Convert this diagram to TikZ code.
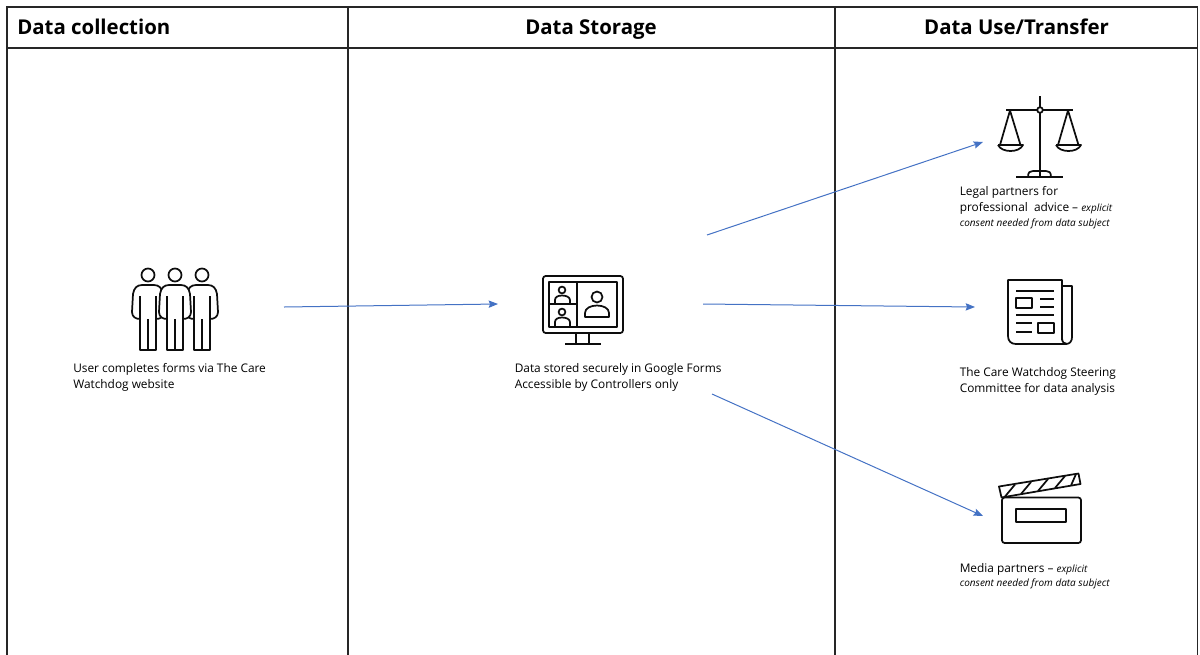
\documentclass[tikz,border=0pt]{standalone}
\usepackage{fontspec}
\setmainfont{Open Sans}
\usetikzlibrary{arrows.meta}
\definecolor{arrowblue}{HTML}{4472C4}
\tikzset{
	frameline/.style={draw=black!85,line width=1.2pt},
	headtext/.style={font=\fontsize{15.3}{18}\selectfont\bfseries,inner sep=0pt,anchor=base},
	bodytext/.style={font=\fontsize{8.9}{12.3}\selectfont,align=left,anchor=north west,inner sep=0pt},
	icon/.style={draw=black!95,line width=1.3pt,line join=round},
	flow/.style={draw=arrowblue,line width=0.75pt,-{Stealth[length=7pt,width=5.5pt,inset=1pt]}}
}
\newcommand{\smallnote}[1]{{\fontsize{7.5}{9}\selectfont\itshape #1}}
\newcommand{\personicon}[1]{
	\begin{scope}[shift={(#1,0)}]
		\draw[icon] (0,275) circle (6.5);
		\draw[icon,fill=white] (-8,350) -- (-8,319) .. controls (-12,319) and (-16,317) .. (-16,312) -- (-15,294) .. controls (-14,288) and (-11,285) .. (-6,285) -- (6,285) .. controls (11,285) and (14,288) .. (15,294) -- (16,312) .. controls (16,317) and (12,319) .. (8,319) -- (8,350) -- cycle;
		\draw[icon] (-8,296) -- (-8,319);
		\draw[icon] (8,296) -- (8,319);
		\draw[icon] (0,319) -- (0,350);
	\end{scope}
}
\begin{document}
\begin{tikzpicture}[x=0.75pt,y=-0.75pt]
	\useasboundingbox (0,0) rectangle (1200,654);
	% table
	\coordinate (tl) at (7,7);
	\coordinate (tr) at (1197.5,7);
	\coordinate (bl) at (7,660);
	\coordinate (br) at (1197.5,660);
	\coordinate (hl) at (7,48);
	\coordinate (hr) at (1197.5,48);
	\coordinate (ca) at (348,7);
	\coordinate (cb) at (348,660);
	\coordinate (cc) at (835,7);
	\coordinate (cd) at (835,660);
	\draw[frameline] (bl) -- (tl) -- (tr) -- (br);
	\draw[frameline] (hl) -- (hr);
	\draw[frameline] (ca) -- (cb);
	\draw[frameline] (cc) -- (cd);
	\node[headtext,anchor=base west] (collect) at (17,34) {Data collection};
	\node[headtext] (store) at (591,34) {Data Storage};
	\node[headtext] (use) at (1016.5,34) {Data Use/Transfer};
	% people
	\personicon{148}
	\personicon{202}
	\personicon{175}
	\node[bodytext] (usertext) at (73,363) {User completes forms via The Care\\Watchdog website};
	% monitor
	\draw[icon,rounded corners=2] (543,276) rectangle (623,333);
	\draw[icon] (549,282) rectangle (617,327);
	\draw[icon] (577,282) -- (577,327);
	\draw[icon] (549,304) -- (577,304);
	\draw[icon] (576,333) -- (576,344);
	\draw[icon] (589,333) -- (589,344);
	\draw[icon] (565,344) -- (601,344);
	\draw[icon] (562,290) circle (3.4);
	\draw[icon] (555,303) -- (555,300) .. controls (555,297) and (558,295.5) .. (562,295.5) .. controls (566,295.5) and (570,297) .. (570,300) -- (570,303);
	\draw[icon] (562,312) circle (3.4);
	\draw[icon] (555,326) -- (555,322) .. controls (555,319) and (558,317.5) .. (562,317.5) .. controls (566,317.5) and (570,319) .. (570,322) -- (570,326);
	\draw[icon] (597,297) circle (5.5);
	\draw[icon] (585,317) -- (585,313) .. controls (585,308) and (591,305.5) .. (597,305.5) .. controls (603,305.5) and (609,308) .. (609,313) -- (609,317) -- cycle;
	\node[bodytext] (storetext) at (514.5,363) {Data stored securely in Google Forms\\Accessible by Controllers only};
	% scales
	\draw[icon] (1040,96) -- (1040,176);
	\draw[icon] (1006,110) -- (1073,110);
	\draw[icon,fill=white] (1040,110) circle (2.8);
	\draw[icon] (1000,145) -- (1010,110.5) -- (1020.5,145);
	\draw[icon] (998,145) -- (1023,145) .. controls (1021,149) and (1016,151) .. (1010.5,151) .. controls (1005,151) and (1000,149) .. (998,145);
	\draw[icon] (1058,145) -- (1068,110.5) -- (1078.5,145);
	\draw[icon] (1056,145) -- (1081,145) .. controls (1079,149) and (1074,151) .. (1068.5,151) .. controls (1063,151) and (1058,149) .. (1056,145);
	\draw[icon] (1016,177) -- (1063,177);
	\draw[icon] (1028,177) .. controls (1028,172) and (1030,171) .. (1033,171) -- (1046,171) .. controls (1049,171) and (1051,172) .. (1051,177);
	\node[bodytext] (legaltext) at (959.5,186) {Legal partners for\\professional\ \ advice -- \smallnote{explicit}\\[-1.5pt]\smallnote{consent needed from data subject}};
	% newspaper
	\draw[icon] (1062,340) -- (1062,280) -- (1008,280) -- (1008,336) .. controls (1008,341) and (1011,344) .. (1016,344) -- (1066,344) .. controls (1070,344) and (1072,341) .. (1072,337) -- (1072,286) -- (1062,286);
	\draw[icon] (1062,338) .. controls (1062,342) and (1064,344) .. (1067,344);
	\draw[icon] (1016,291) -- (1054,291);
	\draw[icon] (1016,298) rectangle (1032,308);
	\draw[icon] (1040,299) -- (1054,299);
	\draw[icon] (1040,307) -- (1054,307);
	\draw[icon] (1016,315) -- (1054,315);
	\draw[icon] (1016,323) -- (1032,323);
	\draw[icon] (1016,332) -- (1032,332);
	\draw[icon] (1038,323) rectangle (1054,333);
	\node[bodytext] (committeetext) at (959.5,367) {The Care Watchdog Steering\\Committee for data analysis};
	% clapperboard
	\draw[icon,rounded corners=2] (1002,497.5) -- (1002,543) -- (1081,543) -- (1081,497.5) -- cycle;
	\draw[icon] (1016,509) rectangle (1066,522);
	\draw[icon] (999,486.5) -- (1078.5,473.5) -- (1080.5,484) -- (1001.5,497.5) -- cycle;
	\draw[icon] (1005,496.5) -- (1015,484.5);
	\draw[icon] (1021,494) -- (1031,482);
	\draw[icon] (1038,491) -- (1048,479);
	\draw[icon] (1055,488) -- (1065,476);
	\draw[icon] (1071,485.5) -- (1076,474);
	\node[bodytext] (mediatext) at (959.5,563) {Media partners -- \smallnote{explicit}\\[-2pt]\smallnote{consent needed from data subject}};
	% arrows
	\coordinate (a1) at (284,307);
	\coordinate (a2) at (498,304);
	\coordinate (b1) at (703,304);
	\coordinate (b2) at (975,307);
	\coordinate (c1) at (707,235);
	\coordinate (c2) at (983,142);
	\coordinate (d1) at (712,394);
	\coordinate (d2) at (983,516);
	\draw[flow] (a1) -- (a2);
	\draw[flow] (b1) -- (b2);
	\draw[flow] (c1) -- (c2);
	\draw[flow] (d1) -- (d2);
\end{tikzpicture}
\end{document}
